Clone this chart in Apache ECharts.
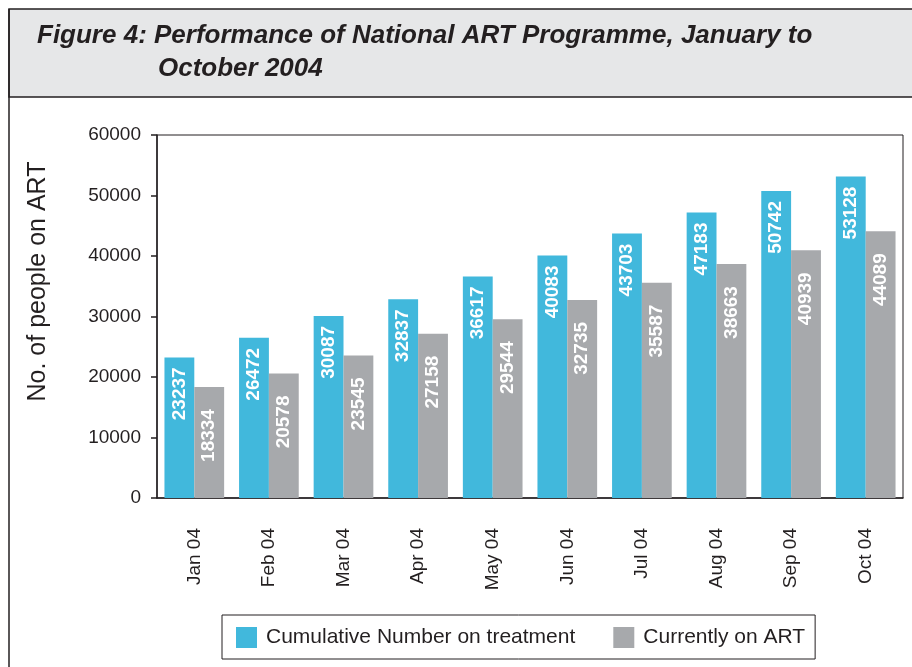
<!DOCTYPE html>
<html>
<head>
<meta charset="utf-8">
<script src="https://cdn.jsdelivr.net/npm/echarts@6/dist/echarts.min.js"></script>
<style>
  html, body { margin: 0; padding: 0; background: #fff; }
  #chart { width: 912px; height: 667px; }
</style>
</head>
<body>
<div id="chart"></div>
<script>
// data
const months = ['Jan 04', 'Feb 04', 'Mar 04', 'Apr 04', 'May 04', 'Jun 04', 'Jul 04', 'Aug 04', 'Sep 04', 'Oct 04'];
const cumulative = [23237, 26472, 30087, 32837, 36617, 40083, 43703, 47183, 50742, 53128];
const current = [18334, 20578, 23545, 27158, 29544, 32735, 35587, 38663, 40939, 44089];
const yTicks = [0, 10000, 20000, 30000, 40000, 50000, 60000];

const ink = '#231f20';
const font = 'Liberation Sans, Arial, Helvetica, sans-serif';

let chart = echarts.init(document.getElementById('chart'));

function barLabel(dist) {
  return {
    show: true,
    position: 'insideTop',
    distance: dist,
    rotate: 90,
    align: 'right',
    verticalAlign: 'middle',
    color: '#fff',
    fontWeight: 'bold',
    fontSize: 19,
    fontFamily: font
  };
}

const titleStyle = { fontSize: 26, fontWeight: 'bold', fontStyle: 'italic', color: ink, fontFamily: font };

chart.setOption({
  animation: false,
  textStyle: { fontFamily: font, color: ink },
  graphic: [
    { // header band
      type: 'rect', z: -1,
      shape: { x: 9, y: 9, width: 910, height: 88 },
      style: { fill: '#e6e7e8', stroke: ink, lineWidth: 1.5 }
    },
    { // frame left edge
      type: 'line', z: -1,
      shape: { x1: 9, y1: 9, x2: 9, y2: 667 },
      style: { stroke: ink, lineWidth: 1.5 }
    }
  ],
  title: [
    { text: 'Figure 4: Performance of National ART Programme, January to', left: 32, top: 18, textStyle: titleStyle },
    { text: 'October 2004', left: 153, top: 51, textStyle: titleStyle }
  ],
  legend: {
    left: 222, top: 615,
    icon: 'rect',
    itemWidth: 21, itemHeight: 21,
    itemGap: 38,
    padding: [12, 10, 11, 14],
    borderColor: ink, borderWidth: 1,
    textStyle: { fontSize: 21, color: ink, fontFamily: font, padding: [0, 0, 0, 4] },
    data: ['Cumulative Number on treatment', 'Currently on ART']
  },
  grid: {
    left: 157, right: 9, top: 135, bottom: 169,
    show: true, borderColor: ink, borderWidth: 1
  },
  xAxis: {
    type: 'category',
    data: months,
    axisLine: { lineStyle: { color: ink, width: 1.5 } },
    axisTick: { length: 18, lineStyle: { color: ink, width: 1.5 } },
    axisLabel: { rotate: 90, margin: 30, fontSize: 19, color: ink, fontFamily: font }
  },
  yAxis: {
    type: 'value',
    min: yTicks[0], max: yTicks[yTicks.length - 1], interval: 10000,
    name: 'No. of people on ART',
    nameLocation: 'middle',
    nameGap: 106,
    nameTextStyle: { fontSize: 25, color: ink, fontFamily: font, padding: [0, 0, 0, 70] },
    axisLine: { show: true, lineStyle: { color: ink, width: 1.5 } },
    axisTick: { show: true, length: 6, lineStyle: { color: ink, width: 1.5 } },
    splitLine: { show: false },
    axisLabel: { margin: 16, fontSize: 19, color: ink, fontFamily: font, formatter: v => String(v) }
  },
  series: [
    {
      name: 'Cumulative Number on treatment',
      type: 'bar',
      data: cumulative,
      barGap: '0%',
      barCategoryGap: '20%',
      itemStyle: { color: '#41b8dc' },
      label: barLabel(10)
    },
    {
      name: 'Currently on ART',
      type: 'bar',
      data: current,
      itemStyle: { color: '#a7a9ac' },
      label: barLabel(22)
    }
  ]
});
</script>
</body>
</html>
